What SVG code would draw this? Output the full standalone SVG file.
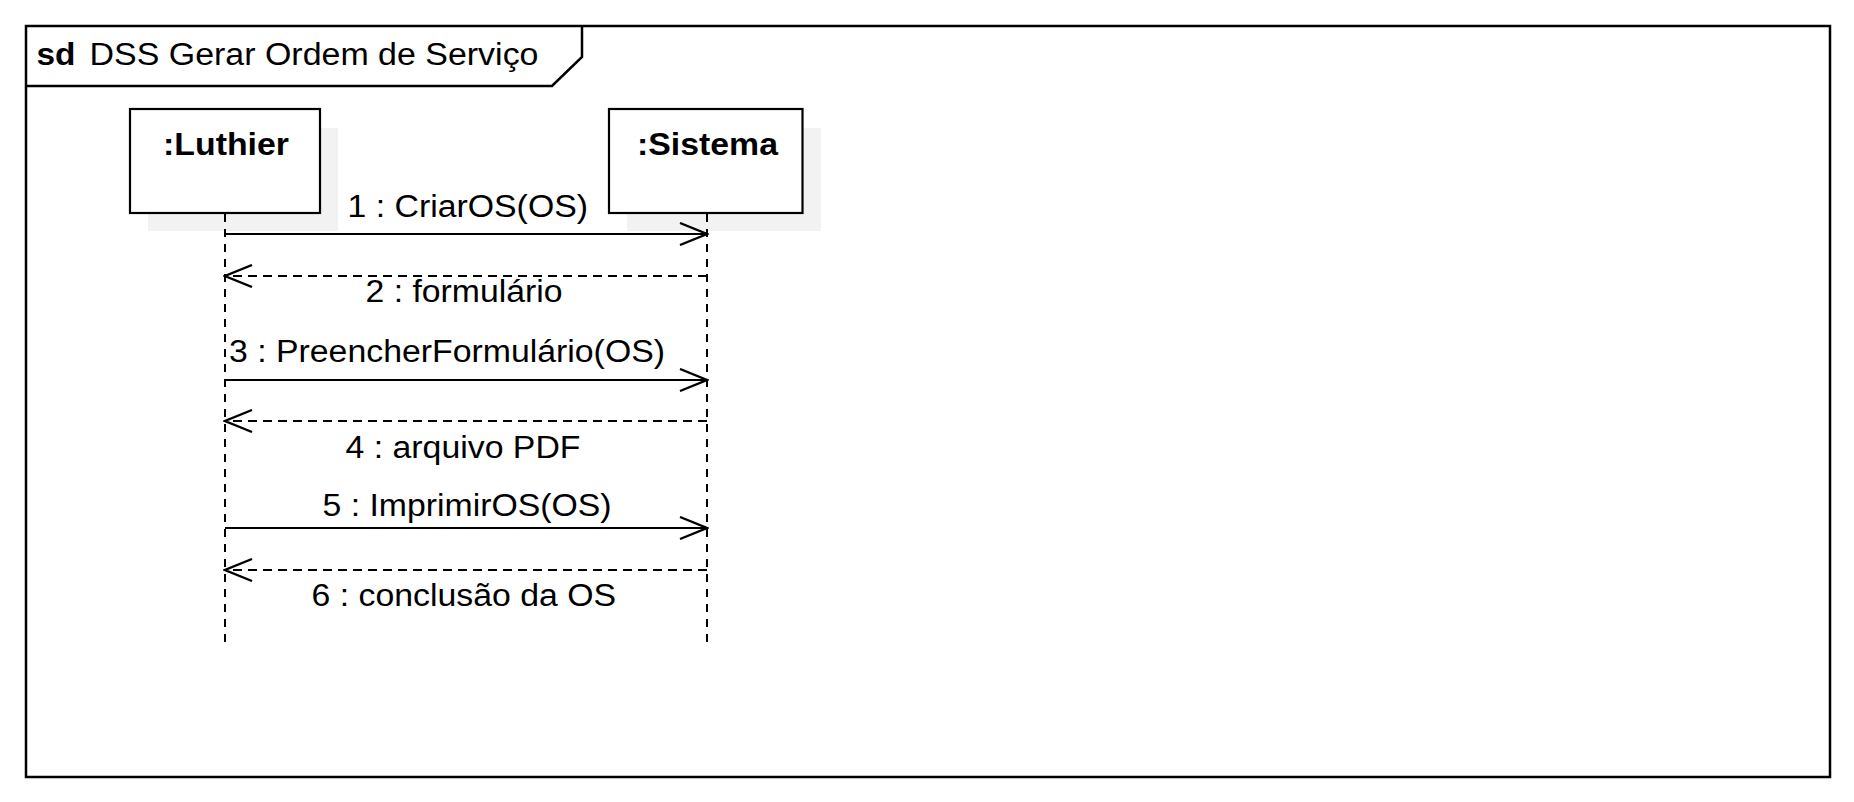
<svg xmlns="http://www.w3.org/2000/svg" width="1854" height="802" viewBox="0 0 1854 802">
<style>
.t{font-family:"Liberation Sans",Arial,sans-serif;font-size:31px;fill:#000}
.b{font-weight:bold}
.box{fill:#fff;stroke:#000;stroke-width:2.2}
.sh{fill:#f2f2f2;stroke:none}
.life{stroke:#000;stroke-width:2;stroke-dasharray:8,7;fill:none}
.call{stroke:#000;stroke-width:2.2;fill:none;marker-end:url(#arr)}
.ret{stroke:#000;stroke-width:2.2;stroke-dasharray:9,6;fill:none;marker-end:url(#arr)}
</style>
<defs>
<marker id="arr" markerUnits="userSpaceOnUse" viewBox="0 0 30 24" markerWidth="30" markerHeight="24" refX="28" refY="12" orient="auto">
<path d="M1,1 L28,12 L1,23" fill="none" stroke="#000" stroke-width="2.3"/>
</marker>
</defs>
<rect width="1854" height="802" fill="#fff"/>
<g id="frame">
<rect x="26" y="26" width="1804" height="751" fill="#fff" stroke="#000" stroke-width="2.5"/>
<path d="M26,86 L552,86 L582,57 L582,26" fill="none" stroke="#000" stroke-width="2.5"/>
<text class="t b" x="36.5" y="65" textLength="39" lengthAdjust="spacingAndGlyphs">sd</text>
<text class="t" x="89.5" y="65" textLength="449" lengthAdjust="spacingAndGlyphs">DSS Gerar Ordem de Serviço</text>
</g>
<g id="luthier">
<rect class="sh" x="148" y="128" width="190" height="103"/>
<rect class="box" x="130" y="109" width="190" height="104"/>
<text class="t b" x="163" y="155" textLength="126" lengthAdjust="spacingAndGlyphs">:Luthier</text>
</g>
<g id="sistema">
<rect class="sh" x="627" y="128" width="194" height="103"/>
<rect class="box" x="609" y="109" width="193.5" height="104"/>
<text class="t b" x="637" y="155" textLength="141" lengthAdjust="spacingAndGlyphs">:Sistema</text>
</g>
<g id="connectors">
<line class="life" x1="225" y1="214" x2="225" y2="644"/>
<line class="life" x1="707" y1="214" x2="707" y2="644"/>
<line class="call" x1="225" y1="234" x2="707" y2="234"/>
<line class="ret" x1="707" y1="276" x2="225" y2="276"/>
<line class="call" x1="225" y1="380" x2="707" y2="380"/>
<line class="ret" x1="707" y1="421" x2="225" y2="421"/>
<line class="call" x1="225" y1="528" x2="707" y2="528"/>
<line class="ret" x1="707" y1="570" x2="225" y2="570"/>
<text class="t" x="347.5" y="217" textLength="240.5" lengthAdjust="spacingAndGlyphs">1 : CriarOS(OS)</text>
<text class="t" x="365.5" y="302" textLength="197" lengthAdjust="spacingAndGlyphs">2 : formulário</text>
<text class="t" x="229" y="362" textLength="436" lengthAdjust="spacingAndGlyphs">3 : PreencherFormulário(OS)</text>
<text class="t" x="345.5" y="458" textLength="235" lengthAdjust="spacingAndGlyphs">4 : arquivo PDF</text>
<text class="t" x="322.5" y="516" textLength="289" lengthAdjust="spacingAndGlyphs">5 : ImprimirOS(OS)</text>
<text class="t" x="311.5" y="606" textLength="304.5" lengthAdjust="spacingAndGlyphs">6 : conclusão da OS</text>
</g>
</svg>
